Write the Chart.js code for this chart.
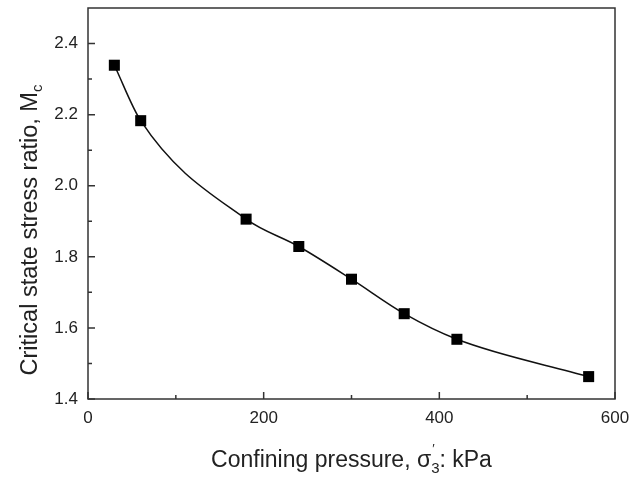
<!DOCTYPE html>
<html>
<head>
<meta charset="utf-8">
<script src="https://cdn.jsdelivr.net/npm/chart.js@4.4.0/dist/chart.umd.min.js"></script>
<style>
  html, body { margin: 0; padding: 0; background: #fff; }
  #wrap { width: 633px; height: 479px; position: relative; }
</style>
</head>
<body>
<div id="wrap"><canvas id="chart"></canvas></div>
<script>
// data
const pressure = [30, 60, 180, 240, 300, 360, 420, 570];          // kPa
const stressRatio = [2.339, 2.183, 1.906, 1.829, 1.737, 1.640, 1.568, 1.463];

const xTicks = [0, 200, 400, 600];
const xMinor = [100, 300, 500];
const yTicks = [1.4, 1.6, 1.8, 2.0, 2.2, 2.4];
const yMinor = [1.5, 1.7, 1.9, 2.1, 2.3];

const FONT = '"Liberation Sans", Arial, sans-serif';
const INK = '#222';

// draws a row of text pieces (some sub/superscript) centred on cx
function drawParts(ctx, parts, cx, baseY) {
  let total = 0;
  parts.forEach(p => {
    ctx.font = p.size + 'px ' + FONT;
    p.w = ctx.measureText(p.t).width;
    if (!p.over) total += p.w;
  });
  let x = cx - total / 2;
  parts.forEach(p => {
    ctx.font = p.size + 'px ' + FONT;
    ctx.fillText(p.t, x + (p.shift || 0), baseY + (p.dy || 0));
    if (!p.over) x += p.w;
  });
}

// box, inward ticks and axis titles
const framePlugin = {
  id: 'frame',
  afterDraw(chart) {
    const { ctx, chartArea: a, scales } = chart;
    ctx.save();
    ctx.strokeStyle = '#333';
    ctx.lineWidth = 1.5;
    ctx.strokeRect(a.left, a.top, a.right - a.left, a.bottom - a.top);

    ctx.beginPath();
    xTicks.forEach(v => {
      const px = scales.x.getPixelForValue(v);
      ctx.moveTo(px, a.bottom); ctx.lineTo(px, a.bottom - 7);
    });
    xMinor.forEach(v => {
      const px = scales.x.getPixelForValue(v);
      ctx.moveTo(px, a.bottom); ctx.lineTo(px, a.bottom - 4);
    });
    yTicks.forEach(v => {
      const py = scales.y.getPixelForValue(v);
      ctx.moveTo(a.left, py); ctx.lineTo(a.left + 7, py);
    });
    yMinor.forEach(v => {
      const py = scales.y.getPixelForValue(v);
      ctx.moveTo(a.left, py); ctx.lineTo(a.left + 4, py);
    });
    ctx.stroke();

    ctx.fillStyle = INK;
    ctx.textBaseline = 'alphabetic';
    ctx.textAlign = 'left';
    // x title
    drawParts(ctx, [
      { t: 'Confining pressure, \u03c3', size: 23 },
      { t: '\u2032', size: 13, dy: -14, over: true, shift: 1 },
      { t: '3', size: 15, dy: 6 },
      { t: ': kPa', size: 23 }
    ], (a.left + a.right) / 2, 467);

    // y title
    ctx.translate(37, 230);
    ctx.rotate(-Math.PI / 2);
    drawParts(ctx, [
      { t: 'Critical state stress ratio, M', size: 23.5 },
      { t: 'c', size: 15, dy: 5 }
    ], 0, 0);
    ctx.restore();
  }
};

new Chart(document.getElementById('chart').getContext('2d'), {
  type: 'line',
  data: {
    datasets: [{
      data: pressure.map((p, i) => ({ x: p, y: stressRatio[i] })),
      borderColor: '#111',
      borderWidth: 1.5,
      backgroundColor: '#000',
      pointStyle: 'rect',
      pointRadius: 7.8,
      pointBorderWidth: 0,
      pointBackgroundColor: '#000',
      cubicInterpolationMode: 'monotone',
      fill: false
    }]
  },
  options: {
    responsive: true,
    maintainAspectRatio: false,
    animation: false,
    layout: { padding: { top: 8, right: 18, left: 0, bottom: 0 } },
    plugins: { legend: { display: false }, tooltip: { enabled: false } },
    scales: {
      x: {
        type: 'linear',
        min: 0, max: 600,
        grid: { display: false, drawTicks: false },
        border: { display: false },
        afterBuildTicks: s => { s.ticks = xTicks.map(v => ({ value: v })); },
        afterFit: s => { s.height = 80; s.paddingLeft = 0; s.paddingRight = 0; },
        ticks: { color: INK, font: { family: FONT, size: 17 }, padding: 9, maxRotation: 0 }
      },
      y: {
        type: 'linear',
        min: 1.4, max: 2.5,
        grid: { display: false, drawTicks: false },
        border: { display: false },
        afterBuildTicks: s => { s.ticks = yTicks.map(v => ({ value: v })); },
        afterFit: s => { s.width = 88; s.paddingTop = 0; s.paddingBottom = 0; },
        ticks: {
          color: INK, font: { family: FONT, size: 17 }, padding: 10,
          callback: v => Number(v).toFixed(1)
        }
      }
    }
  },
  plugins: [framePlugin]
});
</script>
</body>
</html>
